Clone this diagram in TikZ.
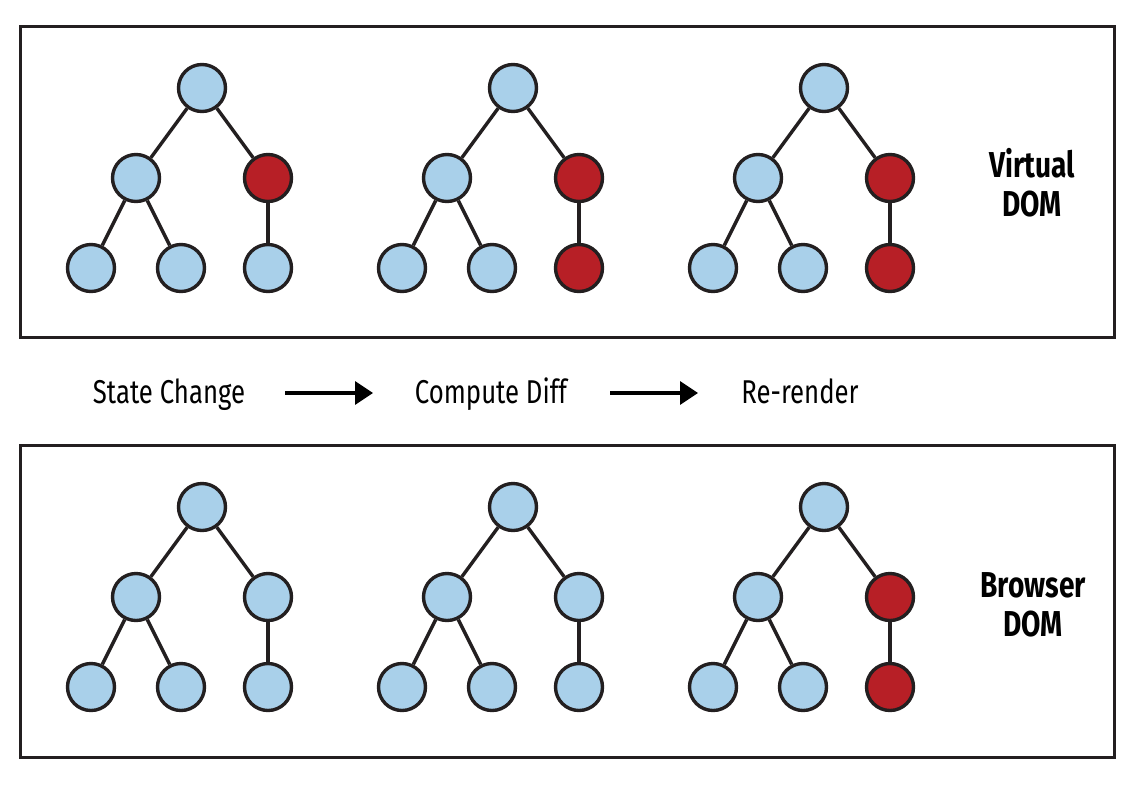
\documentclass[tikz,border=0pt]{standalone}
\usepackage{fontspec}
\setmainfont[FakeStretch=0.78]{Fira Sans}
\usetikzlibrary{arrows.meta}
\definecolor{nodeblue}{HTML}{A9D0EA}
\definecolor{nodered}{HTML}{B71F26}
\definecolor{ink}{HTML}{231F20}
\tikzset{
  x=1pt, y=-1pt,
  dn/.style={circle, draw=ink, line width=3.4pt, minimum size=47pt, inner sep=0pt, fill=nodeblue},
  edge/.style={draw=ink, line width=3.4pt},
  panel/.style={draw=ink, line width=3pt},
  steplabel/.style={font=\fontsize{33}{36}\selectfont, anchor=base},
  domlabel/.style={font=\bfseries\fontsize{36}{39}\selectfont, align=center},
  flowarrow/.style={draw=black, line width=3.5pt, -{Triangle[length=18pt,width=23pt]}}
}
\newcommand\domtree[5]{%
  \begin{scope}[shift={(#2,#3)}]
    \node[dn] (#1a) at (202,88) {};
    \node[dn] (#1b) at (136,178) {};
    \node[dn, fill=#4] (#1c) at (268,178) {};
    \node[dn] (#1d) at (91,268) {};
    \node[dn] (#1e) at (181,268) {};
    \node[dn, fill=#5] (#1f) at (268,268) {};
    \draw[edge] (#1a) -- (#1b);
    \draw[edge] (#1a) -- (#1c);
    \draw[edge] (#1b) -- (#1d);
    \draw[edge] (#1b) -- (#1e);
    \draw[edge] (#1c) -- (#1f);
  \end{scope}}
\begin{document}
\begin{tikzpicture}
\useasboundingbox (0,0) rectangle (1140,785);
\fill[white] (0,0) rectangle (1140,785);
\draw[panel] (20,26) rectangle (1114,337);
\draw[panel] (20,445) rectangle (1114,757);
\domtree{va}{0}{0}{nodered}{nodeblue}
\domtree{vb}{311}{0}{nodered}{nodered}
\domtree{vc}{622}{0}{nodered}{nodered}
\domtree{ba}{0}{419}{nodeblue}{nodeblue}
\domtree{bb}{311}{419}{nodeblue}{nodeblue}
\domtree{bc}{622}{419}{nodered}{nodered}
\node[domlabel] (vlab) at (1032,183) {Virtual\\DOM};
\node[domlabel] (blab) at (1033,605) {Browser\\DOM};
\node[steplabel] (s1) at (169,403) {State Change};
\node[steplabel] (s2) at (491,403) {Compute Diff};
\node[steplabel] (s3) at (800,403) {Re-render};
\coordinate (a1s) at (285,393);
\coordinate (a1e) at (373,393);
\coordinate (a2s) at (610,393);
\coordinate (a2e) at (698,393);
\draw[flowarrow] (a1s) -- (a1e);
\draw[flowarrow] (a2s) -- (a2e);
\end{tikzpicture}
\end{document}
